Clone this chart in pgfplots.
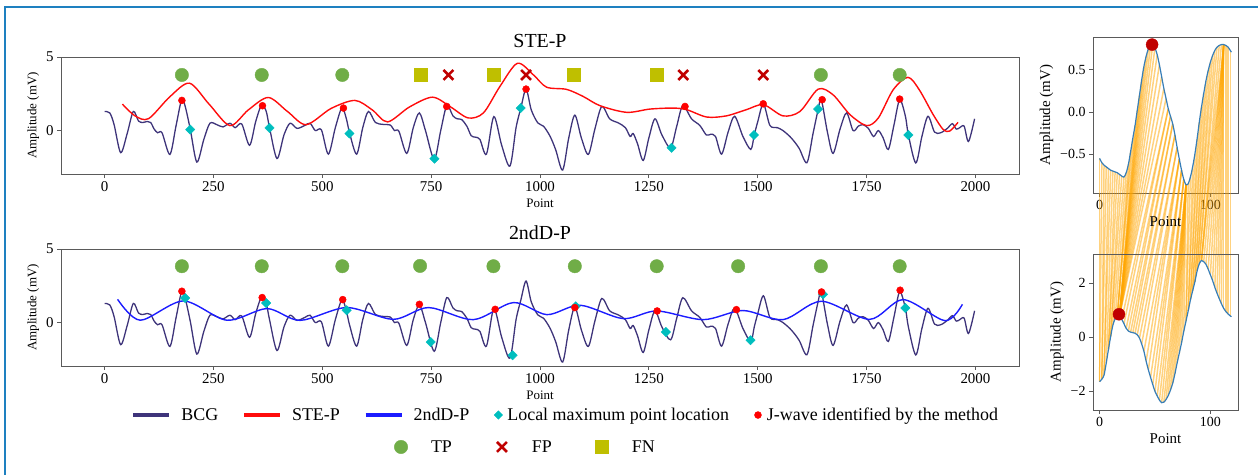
\documentclass[border=0pt]{standalone}
\usepackage{fontspec}
\setmainfont{Liberation Serif}
\usepackage{pgfplots}
\pgfplotsset{compat=1.18}
\usepackage{pgfplotstable}

\definecolor{bcgcol}{RGB}{62,52,122}
\definecolor{stepred}{RGB}{255,12,12}
\definecolor{ndpblue}{RGB}{28,28,255}
\definecolor{lmpcyan}{RGB}{0,190,190}
\definecolor{tpc}{RGB}{112,173,71}
\definecolor{fpc}{RGB}{192,0,0}
\definecolor{fnc}{RGB}{191,191,0}
\definecolor{axgray}{RGB}{90,90,90}
\definecolor{frameblue}{RGB}{30,128,192}
\definecolor{segc}{RGB}{55,126,184}
\definecolor{warpcol}{RGB}{255,165,0}

% BCG signal
\pgfplotstableread{
x y
0 1.30
12 1.20
22 0.40
37 -1.50
52 -0.20
66 1.30
78 0.65
88 0.55
98 0.62
106 0.55
114 0.10
122 -0.15
132 -0.15
150 -1.62
164 0.30
177 2.10
185 1.67
197 0.07
212 -2.14
228 -0.60
242 0.50
258 0.40
272 0.25
288 0.50
300 0.20
315 0.45
333 -1.00
347 0.60
360 1.70
371 1.33
379 0.18
396 -1.90
412 -0.30
426 0.50
442 0.15
460 0.35
472 0.50
484 0.00
498 0.05
514 -1.60
530 0.20
545 1.55
555 0.84
563 -0.20
579 -1.60
593 0.20
606 1.30
622 0.55
640 0.42
656 0.38
666 0.00
676 -0.05
694 -1.55
709 0.20
723 1.20
737 0.00
757 -1.95
772 0.00
786 1.70
800 1.00
810 0.80
820 0.75
832 0.30
842 -0.35
852 -0.45
862 -0.60
877 -1.60
894 0.95
912 -1.00
931 -2.41
945 0.20
956 1.53
968 2.82
980 1.40
995 0.52
1008 0.30
1023 -0.38
1036 -1.30
1052 -2.68
1066 -0.50
1080 1.05
1095 -0.50
1111 -1.62
1126 0.10
1142 1.64
1160 0.80
1180 0.52
1196 0.20
1207 -0.40
1214 -0.20
1224 -0.90
1237 -2.03
1250 -0.50
1264 0.80
1280 -0.30
1300 -1.17
1314 0.30
1328 1.69
1348 0.80
1367 0.35
1382 -0.30
1392 -0.25
1403 -0.40
1417 -1.60
1432 -0.10
1447 0.97
1466 -0.40
1484 -1.28
1492 -0.30
1500 0.60
1513 1.82
1528 0.35
1545 0.20
1558 0.00
1577 -0.50
1595 -1.20
1613 -2.18
1627 -0.20
1639 1.46
1646 2.10
1660 -0.10
1673 -1.55
1689 0.10
1704 1.20
1719 0.00
1731 0.30
1742 0.40
1754 0.15
1766 -0.40
1777 0.00
1788 -0.50
1800 -1.28
1813 0.40
1826 2.10
1839 0.99
1846 -0.30
1863 -2.20
1877 -0.40
1891 0.97
1906 -0.10
1920 -0.15
1935 0.14
1947 0.47
1956 0.10
1964 0.20
1974 0.30
1984 -0.74
1998 0.80
}\bcgdata

% STE-P envelope
\pgfplotstableread{
x y
41 1.80
70 1.00
101 0.81
150 2.30
195 3.22
240 1.80
288 0.34
330 1.40
376 2.25
420 1.30
463 0.40
520 1.50
575 2.05
615 1.40
650 0.59
700 1.60
753 2.27
795 1.60
835 0.86
870 1.20
908 3.00
948 4.57
985 3.78
1015 2.95
1061 2.80
1099 2.32
1138 1.69
1199 1.24
1252 1.46
1305 1.53
1337 1.42
1383 0.92
1428 1.00
1474 1.42
1513 1.76
1558 1.00
1597 1.30
1639 2.82
1673 2.43
1712 1.08
1750 0.34
1777 0.86
1811 2.77
1845 3.62
1871 2.77
1903 1.08
1926 0.07
1941 -0.03
1960 0.56
}\stepdata

% 2ndD-P envelope
\pgfplotstableread{
x y
30 1.58
82 0.16
181 1.47
281 0.16
373 0.95
449 0.15
556 1.02
663 0.22
744 1.02
847 0.20
939 1.36
1016 0.54
1092 1.18
1191 0.27
1268 0.79
1375 0.20
1466 0.82
1558 0.20
1646 1.45
1757 0.22
1834 1.56
1930 0.13
1970 1.24
}\nddata

% segment of the STE-P window
\pgfplotstableread{
x y
0 -0.55
2 -0.60
4 -0.63
6 -0.65
8 -0.67
10 -0.69
12 -0.70
14 -0.71
16 -0.72
18 -0.74
20 -0.76
22 -0.77
24 -0.72
26 -0.62
28 -0.47
30 -0.31
32 -0.16
34 0.02
36 0.20
38 0.38
40 0.54
42 0.66
44 0.75
46 0.79
48 0.80
50 0.76
52 0.68
54 0.56
56 0.42
58 0.28
60 0.16
62 0.04
64 -0.05
66 -0.14
68 -0.27
70 -0.42
72 -0.56
74 -0.69
76 -0.80
78 -0.86
80 -0.85
82 -0.77
84 -0.65
86 -0.50
88 -0.32
90 -0.12
92 0.06
94 0.22
96 0.37
98 0.49
100 0.59
102 0.67
104 0.73
106 0.77
108 0.79
110 0.80
112 0.80
114 0.79
116 0.77
118 0.73
119 0.71
}\segtop

% segment of the 2ndD-P window
\pgfplotstableread{
x y
0 -1.64
2 -1.55
4 -1.40
6 -0.95
8 -0.45
10 0.03
12 0.45
14 0.68
16 0.78
18 0.80
20 0.66
22 0.50
24 0.33
26 0.23
28 0.19
30 0.17
32 0.15
34 0.09
36 -0.03
38 -0.25
40 -0.52
42 -0.88
44 -1.20
46 -1.48
48 -1.75
50 -2.00
52 -2.17
54 -2.32
56 -2.42
58 -2.40
60 -2.30
62 -2.15
64 -1.95
66 -1.70
68 -1.35
70 -0.95
72 -0.58
74 -0.20
76 0.22
78 0.60
80 0.98
82 1.38
84 1.72
86 2.05
88 2.45
90 2.72
92 2.84
94 2.80
96 2.70
98 2.52
100 2.31
102 2.10
104 1.85
106 1.63
108 1.43
110 1.24
112 1.07
114 0.95
116 0.86
118 0.79
119 0.76
}\segbot

% warping path: (index, value) in the upper window -> (index, value) in the lower window
\pgfplotstableread{
xa ya xb yb
0 -0.55 0 -1.64
2 -0.60 0 -1.64
4 -0.63 2 -1.55
6 -0.65 2 -1.55
8 -0.67 4 -1.40
10 -0.69 4 -1.40
12 -0.70 6 -0.95
14 -0.71 8 -0.45
16 -0.72 8 -0.45
18 -0.74 10 0.03
20 -0.76 10 0.03
22 -0.77 12 0.45
24 -0.72 14 0.68
26 -0.62 16 0.78
28 -0.47 16 0.78
30 -0.31 16 0.78
32 -0.16 18 0.80
34 0.02 18 0.80
36 0.20 18 0.80
38 0.38 18 0.80
40 0.54 18 0.80
42 0.66 18 0.80
44 0.75 18 0.80
46 0.79 18 0.80
48 0.80 18 0.80
50 0.76 18 0.80
52 0.68 18 0.80
54 0.56 18 0.80
56 0.42 18 0.80
58 0.28 18 0.80
60 0.16 18 0.80
62 0.04 20 0.66
62 0.04 22 0.50
64 -0.05 24 0.33
64 -0.05 26 0.23
66 -0.14 28 0.19
66 -0.14 30 0.17
68 -0.27 32 0.15
68 -0.27 34 0.09
70 -0.42 36 -0.03
70 -0.42 38 -0.25
72 -0.56 40 -0.52
72 -0.56 42 -0.88
72 -0.56 44 -1.20
74 -0.69 46 -1.48
74 -0.69 48 -1.75
74 -0.69 50 -2.00
76 -0.80 52 -2.17
76 -0.80 54 -2.32
76 -0.80 56 -2.42
78 -0.86 58 -2.40
78 -0.86 60 -2.30
78 -0.86 62 -2.15
78 -0.86 64 -1.95
78 -0.86 66 -1.70
78 -0.86 68 -1.35
78 -0.86 70 -0.95
78 -0.86 72 -0.58
78 -0.86 74 -0.20
78 -0.86 76 0.22
80 -0.85 78 0.60
82 -0.77 78 0.60
84 -0.65 80 0.98
86 -0.50 80 0.98
88 -0.32 82 1.38
90 -0.12 82 1.38
92 0.06 84 1.72
94 0.22 84 1.72
96 0.37 86 2.05
98 0.49 86 2.05
100 0.59 88 2.45
102 0.67 88 2.45
104 0.73 90 2.72
106 0.77 90 2.72
108 0.79 92 2.84
110 0.80 92 2.84
112 0.80 92 2.84
112 0.80 94 2.80
112 0.80 96 2.70
112 0.80 98 2.52
112 0.80 100 2.31
112 0.80 102 2.10
112 0.80 104 1.85
112 0.80 106 1.63
112 0.80 108 1.43
112 0.80 110 1.24
112 0.80 112 1.07
114 0.79 114 0.95
116 0.77 116 0.86
118 0.73 118 0.79
}\warpdata

\pgfplotsset{
  basestyle/.style={
    scale only axis,
    tick align=outside, major tick length=4bp,
    xtick pos=left, ytick pos=left,
    axis line style={axgray, line width=0.9bp},
    tick style={axgray, line width=0.9bp},
    /pgf/number format/assume math mode=true,
    /pgf/number format/set thousands separator={},
    scaled ticks=false,
  },
  % legend handles
  keyimg/.style={legend image code/.code={%
    \draw[mark repeat=2,mark phase=2,##1] plot coordinates {(0bp,0bp) (18bp,0bp) (36bp,0bp)};
    \path[draw=none,fill=none] (0bp,-2bp) rectangle (46bp,2bp);}},
  keymark/.style={legend image code/.code={%
    \draw[##1] plot coordinates {(18bp,0bp)};
    \path[draw=none,fill=none] (0bp,-2bp) rectangle (46bp,2bp);}},
  keymarkshort/.style={legend image code/.code={%
    \draw[##1] plot coordinates {(5bp,0bp)};
    \path[draw=none,fill=none] (0bp,-2bp) rectangle (12bp,2bp);}},
  mainax/.style={
    basestyle,
    width=958bp, height=117bp,
    xmin=-100, xmax=2100, ymin=-2.95, ymax=5,
    xtick={0,250,...,2000}, ytick={0,5},
    tick label style={font=\fontsize{15}{15}\selectfont},
    label style={font=\fontsize{13}{13}\selectfont},
    title style={font=\fontsize{20}{20}\selectfont},
    xlabel=Point, ylabel={Amplitude (mV)},
  },
  rightax/.style={
    basestyle,
    width=145bp, height=156bp,
    xmin=-5.95, xmax=124.95, xtick={0,100},
    tick label style={font=\fontsize{14}{14}\selectfont},
    label style={font=\fontsize{15}{15}\selectfont},
    xlabel=Point, ylabel={Amplitude (mV)},
  },
  rdiamond/.style={only marks, mark=square*, mark size=3.3bp,
    mark options={rotate=45}, lmpcyan},
}

\begin{document}
\begin{tikzpicture}
\path[use as bounding box] (0bp,0bp) rectangle (1258bp,475bp);
\draw[frameblue, line width=2.5bp] (5bp,0bp) -- (5bp,468bp) -- (1258bp,468bp);

% ---------------- STE-P ----------------
\begin{axis}[mainax, at={(61bp,301bp)}, anchor=south west, title={STE-P},
  legend style={at={(0.479,-2.333)}, anchor=center, draw=none, fill=none,
    font=\fontsize{18}{18}\selectfont, legend columns=3,
    /tikz/every even column/.append style={column sep=30bp}},
  legend cell align=left]
\addlegendimage{only marks, mark=*, mark size=6.7bp, tpc, keymark}
\addlegendentry{TP}
\addlegendimage{only marks, mark=x, mark size=7bp, fpc, mark options={line width=2.6bp}, keymark}
\addlegendentry{FP}
\addlegendimage{only marks, mark=square*, mark size=6.5bp, fnc, keymark}
\addlegendentry{FN}
\addplot[bcgcol, line width=1.3bp, smooth, forget plot] table {\bcgdata};
\addplot[stepred, line width=1.4bp, smooth, forget plot] table {\stepdata};
\addplot[rdiamond, forget plot] coordinates {
  (196.7,0.07) (378.8,0.18) (562.4,-0.20) (757.5,-1.91) (955.6,1.53)
  (1302,-1.17) (1491.5,-0.30) (1638.6,1.46) (1846,-0.30)};
\addplot[only marks, mark=*, mark size=3.5bp, red, forget plot] coordinates {
  (177.6,2.05) (362.7,1.69) (548.6,1.53) (785.8,1.64) (968,2.82)
  (1333,1.64) (1512.6,1.82) (1648,2.10) (1826,2.14)};
\addplot[only marks, mark=*, mark size=6.7bp, tpc, forget plot] coordinates {
  (177.6,3.78) (361,3.78) (546,3.78) (1645,3.78) (1826,3.78)};
\addplot[only marks, mark=square*, mark size=6.5bp, fnc, forget plot] coordinates {
  (726,3.78) (893,3.78) (1078,3.78) (1268,3.78)};
\addplot[only marks, mark=x, mark size=7bp, fpc, mark options={line width=2.6bp}, forget plot] coordinates {
  (789.6,3.78) (968,3.78) (1329,3.78) (1512.6,3.78)};
\end{axis}

% ---------------- 2ndD-P ----------------
\begin{axis}[mainax, at={(61bp,109bp)}, anchor=south west, title={2ndD-P},
  legend style={at={(0.527,-0.419)}, anchor=center, draw=none, fill=none,
    font=\fontsize{18}{18}\selectfont, legend columns=5,
    /tikz/every even column/.append style={column sep=22bp}},
  legend cell align=left]
\addlegendimage{bcgcol, line width=3.5bp, keyimg}
\addlegendentry{BCG}
\addlegendimage{stepred, line width=3.5bp, keyimg}
\addlegendentry{STE-P}
\addlegendimage{ndpblue, line width=3.5bp, keyimg}
\addlegendentry{2ndD-P}
\addlegendimage{rdiamond, mark size=3bp, keymarkshort}
\addlegendentry{Local maximum point location}
\addlegendimage{only marks, mark=*, mark size=3.5bp, red, keymarkshort}
\addlegendentry{J-wave identified by the method}
\addplot[bcgcol, line width=1.3bp, smooth, forget plot] table {\bcgdata};
\addplot[ndpblue, line width=1.4bp, smooth, forget plot] table {\nddata};
\addplot[rdiamond, forget plot] coordinates {
  (185,1.67) (371,1.33) (556,0.84) (749,-1.32) (937,-2.22)
  (1082,1.11) (1289,-0.64) (1483.5,-1.20) (1650,1.92) (1839,0.99)};
\addplot[only marks, mark=*, mark size=3.5bp, red, forget plot] coordinates {
  (177.6,2.13) (362,1.70) (547,1.56) (723,1.24) (897,0.90)
  (1080,1.02) (1269,0.79) (1451,0.88) (1646.5,2.08) (1827,2.20)};
\addplot[only marks, mark=*, mark size=6.7bp, tpc, forget plot] coordinates {
  (177.6,3.83) (361,3.83) (546,3.83) (724.6,3.85) (893,3.83)
  (1080,3.83) (1268,3.83) (1455,3.83) (1645,3.83) (1826,3.83)};
\end{axis}

% ---------------- upper window with warping lines ----------------
\begin{axis}[rightax, at={(1093bp,282bp)}, anchor=south west,
  ymin=-0.96, ymax=0.89, ytick={-0.5,0,0.5}, yticklabels={−0.5,0.0,0.5},
  clip=false]
\addplot[warpcol, opacity=0.5, line width=1.5bp,
  quiver={u=\thisrow{xb}-\thisrow{xa}, v=-2.6714+0.3207*\thisrow{yb}-\thisrow{ya},
          every arrow/.append style={-}}] table[x=xa, y=ya] {\warpdata};
\addplot[segc, line width=1.2bp, smooth] table {\segtop};
\addplot[only marks, mark=*, mark size=6bp, fpc] coordinates {(47.4,0.80)};
\end{axis}

% ---------------- lower window ----------------
\begin{axis}[rightax, at={(1093bp,65bp)}, anchor=south west,
  ymin=-2.69, ymax=3.08, ytick={-2,0,2}, yticklabels={−2,0,2}]
\addplot[segc, line width=1.2bp, smooth] table {\segbot};
\addplot[only marks, mark=*, mark size=6bp, fpc] coordinates {(17.5,0.85)};
\end{axis}
\end{tikzpicture}
\end{document}
